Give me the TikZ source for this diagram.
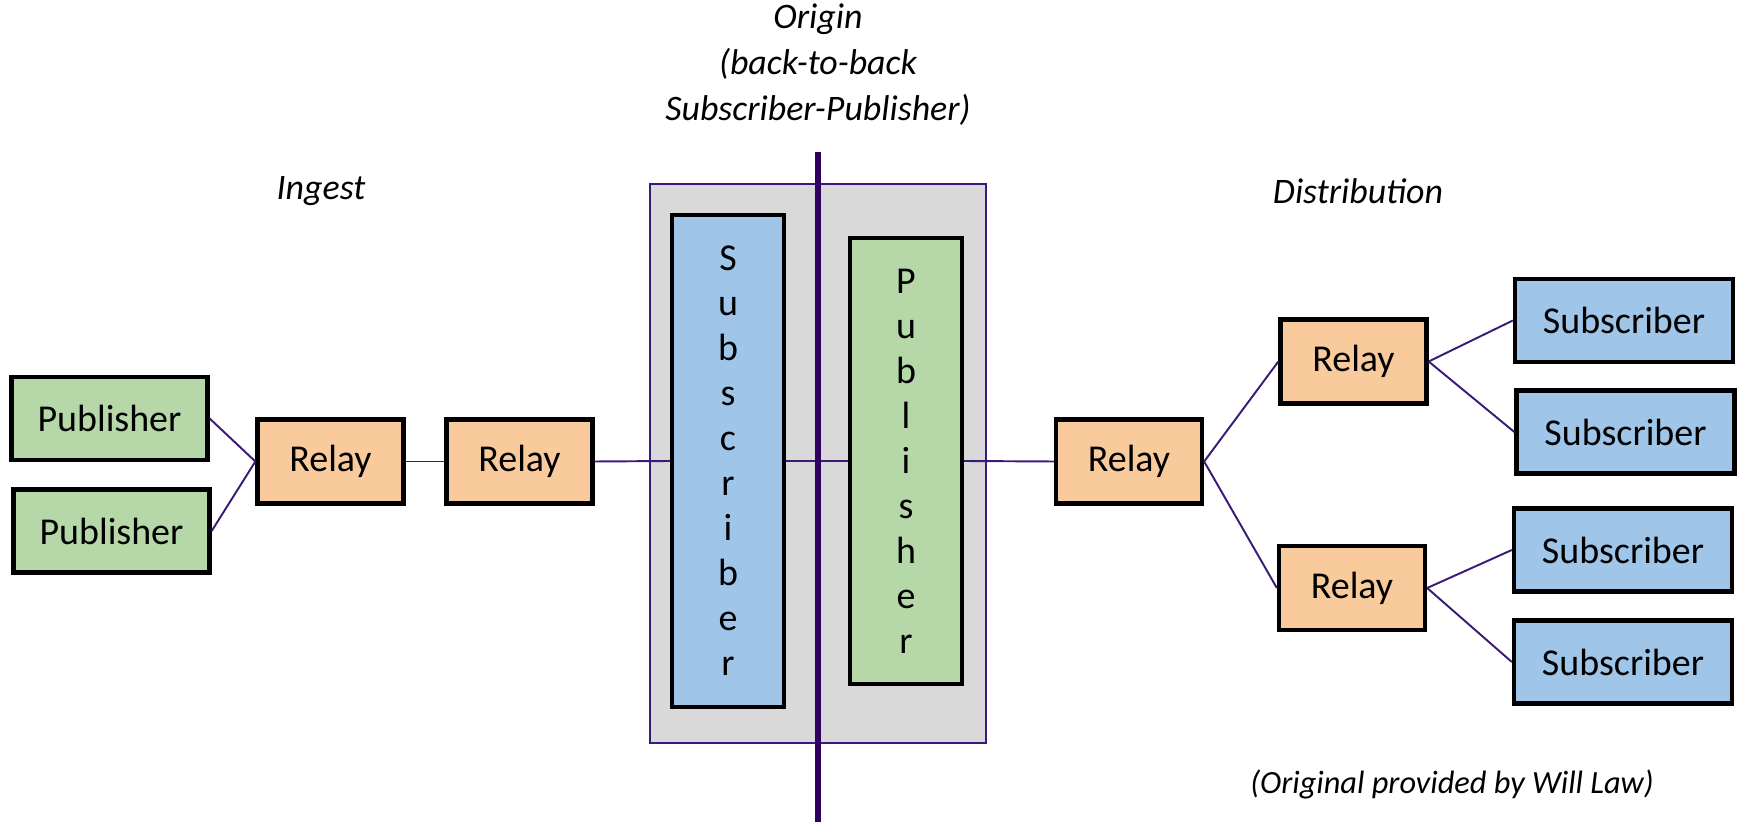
\documentclass[tikz,border=0pt]{standalone}
\usepackage{fontspec}
\setmainfont{Carlito}
\definecolor{pubgreen}{HTML}{B6D7A8}
\definecolor{relayorange}{HTML}{F9CB9C}
\definecolor{subblue}{HTML}{9FC5E8}
\definecolor{origingray}{HTML}{D9D9D9}
\definecolor{linkpurple}{HTML}{3A1A78}
\definecolor{splitpurple}{HTML}{300060}
\tikzset{
  box/.style={draw=black, line width=1.2pt, rectangle, inner sep=0pt,
    font=\fontsize{10.8}{12.8}\selectfont, text=black},
  pubbox/.style={box, fill=pubgreen, minimum width=1.96cm, minimum height=0.83cm},
  relaybox/.style={box, fill=relayorange, minimum width=1.46cm, minimum height=0.84cm},
  subbox/.style={box, fill=subblue, minimum width=2.18cm, minimum height=0.83cm},
  tallbox/.style={box, minimum width=1.12cm, align=center},
  link/.style={draw=linkpurple, line width=0.55pt},
  caption/.style={font=\fontsize{10.2}{13.1}\selectfont\itshape, align=center, inner sep=0pt}
}
\begin{document}
\begin{tikzpicture}[x=0.01cm, y=-0.01cm]
  \useasboundingbox (0,0) rectangle (1737,822);

  % origin enclosure
  \draw[fill=origingray, draw=linkpurple, line width=0.5pt] (650,184) rectangle (986,743);

  % ingest side
  \node[pubbox] (pub1) at (109.5,418.5) {Publisher};
  \node[pubbox] (pub2) at (111.5,531) {Publisher};
  \node[relaybox] (r1) at (330.5,461.5) {Relay};
  \node[relaybox] (r2) at (519.5,461.5) {Relay};

  % origin: back-to-back subscriber and publisher
  \node[tallbox, fill=subblue, minimum height=4.92cm] (osub) at (728,461)
    {S\\u\\b\\s\\c\\r\\i\\b\\e\\r};
  \node[tallbox, fill=pubgreen, minimum height=4.46cm] (opub) at (906,461)
    {P\\u\\b\\l\\i\\s\\h\\e\\r};

  % distribution side
  \node[relaybox] (r3) at (1129,461.5) {Relay};
  \node[relaybox] (r4) at (1353.5,361.5) {Relay};
  \node[relaybox] (r5) at (1352,588) {Relay};
  \node[subbox] (s1) at (1624,320.5) {Subscriber};
  \node[subbox] (s2) at (1625.5,432) {Subscriber};
  \node[subbox] (s3) at (1623,550) {Subscriber};
  \node[subbox] (s4) at (1623,662) {Subscriber};

  % connectors
  \draw[link] (pub1.east) -- (r1.west);
  \draw[link] (pub2.east) -- (r1.west);
  \draw[link] (r1.east) -- (r2.west);
  \draw[link] (r2.east) -- (osub.west);
  \draw[link] (osub.east) -- (opub.west);
  \draw[link] (opub.east) -- (r3.west);
  \draw[link] (r3.east) -- (r4.west);
  \draw[link] (r3.east) -- (r5.west);
  \draw[link] (r4.east) -- (s1.west);
  \draw[link] (r4.east) -- (s2.west);
  \draw[link] (r5.east) -- (s3.west);
  \draw[link] (r5.east) -- (s4.west);

  % split line through the origin
  \coordinate (splittop) at (818,152);
  \coordinate (splitbot) at (818,822);
  \draw[draw=splitpurple, line width=1.7pt] (splittop) -- (splitbot);

  % labels
  \node[caption] (origin) at (818,65) {Origin\\(back-to-back\\Subscriber-Publisher)};
  \node[caption] (ingest) at (321,191) {Ingest};
  \node[caption] (distrib) at (1358,191) {Distribution};
  \node[caption, font=\fontsize{9.2}{11}\selectfont\itshape] (credit) at (1452,784)
    {(Original provided by Will Law)};
\end{tikzpicture}
\end{document}
